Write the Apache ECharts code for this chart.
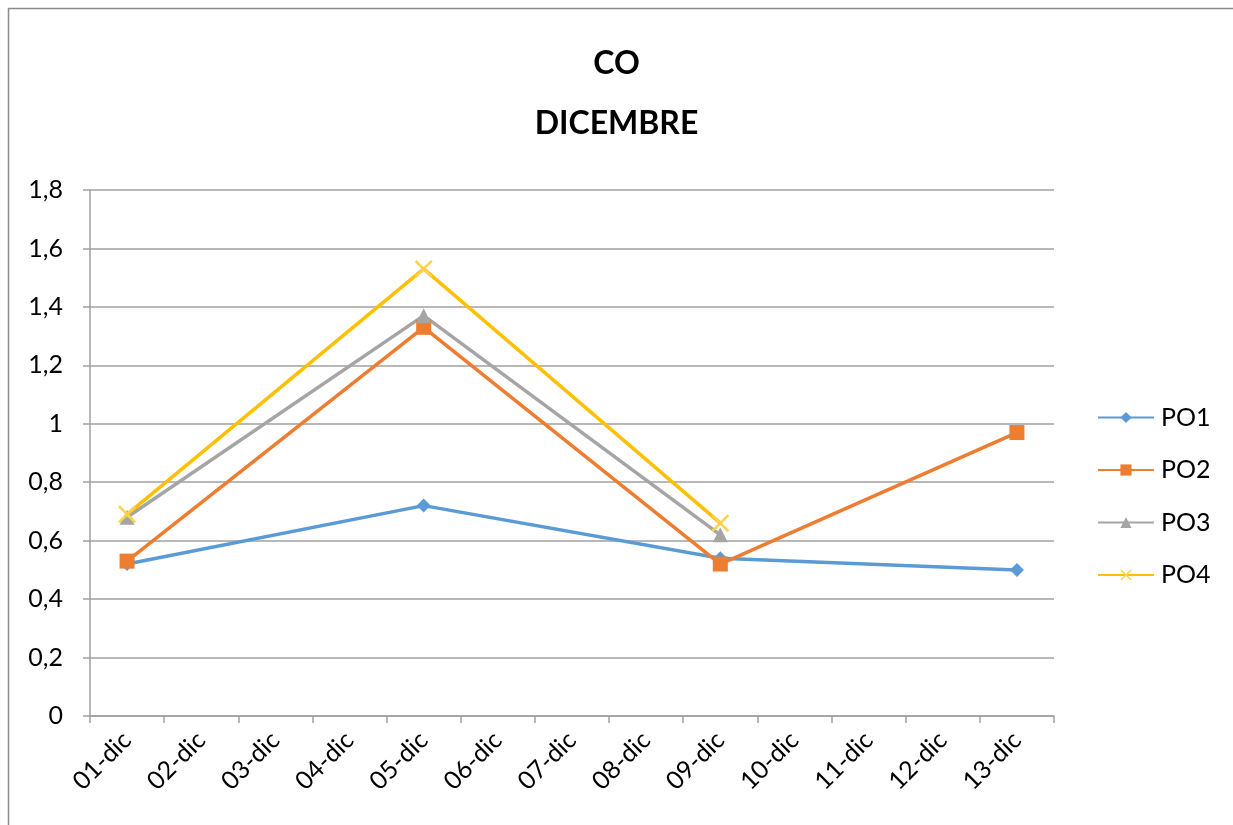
<!DOCTYPE html>
<html>
<head>
<meta charset="utf-8">
<script src="https://cdn.jsdelivr.net/npm/echarts@6/dist/echarts.min.js"></script>
<style>
  html, body { margin: 0; padding: 0; background: #fff; }
  #chart { width: 1233px; height: 825px; }
</style>
</head>
<body>
<div id="chart"></div>
<script>
// dati
const giorni = ['01-dic', '02-dic', '03-dic', '04-dic', '05-dic', '06-dic', '07-dic',
  '08-dic', '09-dic', '10-dic', '11-dic', '12-dic', '13-dic'];
const po1 = [0.52, null, null, null, 0.72, null, null, null, 0.54, null, null, null, 0.50];
const po2 = [0.53, null, null, null, 1.33, null, null, null, 0.52, null, null, null, 0.97];
const po3 = [0.68, null, null, null, 1.37, null, null, null, 0.62, null, null, null, null];
const po4 = [0.69, null, null, null, 1.53, null, null, null, 0.66, null, null, null, null];

const font = 'Lato, "Open Sans", sans-serif';
const crossPath = 'path://M0,1L1,0L5,4L9,0L10,1L6,5L10,9L9,10L5,6L1,10L0,9L4,5Z';

function serie (name, data, color, symbol, size, symColor) {
  return {
    name: name,
    type: 'line',
    data: data,
    connectNulls: true,
    symbol: symbol,
    symbolSize: size,
    lineStyle: { color: color, width: 3.5 },
    itemStyle: { color: symColor || color },
    emphasis: { disabled: true }
  };
}

let myChart = echarts.init(document.getElementById('chart'));
myChart.setOption({
  backgroundColor: '#fff',
  animation: false,
  graphic: [{
    type: 'rect',
    shape: { x: 8.5, y: 8.5, width: 1240, height: 840 },
    style: { fill: 'none', stroke: '#8c8c8c', lineWidth: 1.5 }
  }],
  title: {
    text: 'CO\nDICEMBRE',
    left: 'center',
    top: 29,
    textStyle: { fontFamily: font, fontWeight: 'bold', fontSize: 32, lineHeight: 60, color: '#000' }
  },
  grid: { left: 90, right: 179, top: 190, bottom: 109 },
  legend: {
    orient: 'vertical',
    left: 1092,
    top: 400,
    itemWidth: 56,
    itemHeight: 14,
    itemGap: 27.5,
    textStyle: { fontFamily: font, fontSize: 25, color: '#000', padding: [0, 0, 0, 2] },
    data: ['PO1', 'PO2', 'PO3', 'PO4']
  },
  xAxis: {
    type: 'category',
    data: giorni,
    boundaryGap: true,
    axisLine: { lineStyle: { color: '#a0a0a0', width: 1.5 } },
    axisTick: { show: true, length: 7, lineStyle: { color: '#a0a0a0', width: 1.5 } },
    axisLabel: { rotate: 45, interval: 0, margin: 20, fontFamily: font, fontSize: 25, color: '#000' }
  },
  yAxis: {
    type: 'value',
    min: 0,
    max: 1.8,
    interval: 0.2,
    axisLine: { show: true, lineStyle: { color: '#a0a0a0', width: 1.5 } },
    axisTick: { show: true, length: 7, inside: false, lineStyle: { color: '#a0a0a0', width: 1.5 } },
    splitLine: { lineStyle: { color: '#a0a0a0', width: 1.5 } },
    axisLabel: {
      margin: 27,
      fontFamily: font,
      fontSize: 25,
      color: '#000',
      formatter: function (v) { return String(Math.round(v * 10) / 10).replace('.', ','); }
    }
  },
  series: [
    serie('PO1', po1, '#5B9BD5', 'diamond', 14),
    serie('PO2', po2, '#ED7D31', 'rect', 15),
    serie('PO3', po3, '#A5A5A5', 'triangle', 15),
    serie('PO4', po4, '#FFC000', crossPath, 18, '#FFD24D')
  ]
});
window.addEventListener('resize', function () { myChart.resize(); });
</script>
</body>
</html>
